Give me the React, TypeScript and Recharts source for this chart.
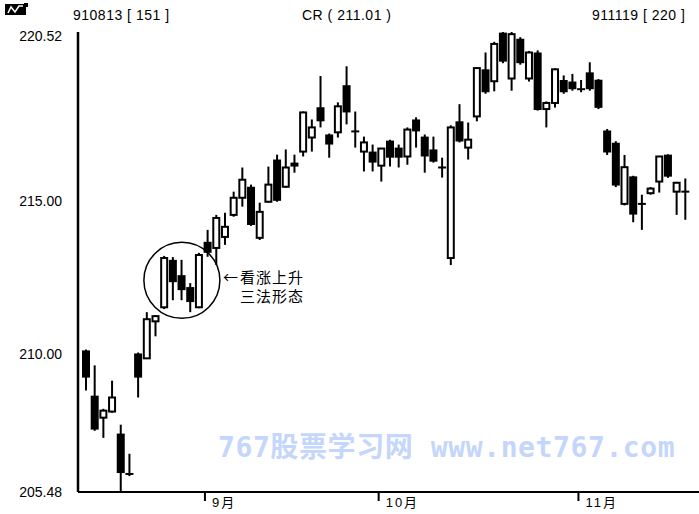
import React from "react";
import { ComposedChart, Bar, XAxis, YAxis, ReferenceDot } from "recharts";

// 910813 [151] .. 911119 [220], daily bars
const dates = [
  "0813", "0814", "0815", "0816", "0819", "0820", "0821", "0822", "0823", "0826", "0827", "0828", "0829", "0830",
  "0903", "0904", "0905", "0906", "0909", "0910", "0911", "0912", "0913", "0916", "0917", "0918", "0919", "0920",
  "0923", "0924", "0925", "0926", "0927", "0930",
  "1001", "1002", "1003", "1004", "1007", "1008", "1009", "1010", "1011", "1014", "1015", "1016", "1017", "1018",
  "1021", "1022", "1023", "1024", "1025", "1028", "1029", "1030", "1031",
  "1101", "1104", "1105", "1106", "1107", "1108", "1111", "1112", "1113", "1114", "1115", "1118", "1119",
];

const opens = [
  210.11, 208.63, 207.91, 208.11, 207.39, 206.08, 210.01, 209.85, 211.06, 211.52,
  213.07, 212.57, 212.18, 211.52, 213.66, 213.46, 213.82, 214.54, 215.1, 215.46,
  213.79, 214.97, 216.35, 215.46, 216.25, 216.61, 217.07, 218.06, 217.17, 217.24,
  218.78, 217.28, 216.61, 216.61, 216.15, 216.97, 216.74, 216.45, 217.66, 217.1,
  216.68, 216.1, 213.13, 217.6, 216.74, 217.76, 219.3, 218.91, 220.5, 219.0,
  220.3, 219.0, 219.85, 218.0, 218.2, 218.95, 218.9, 218.66, 219.2, 218.96,
  217.3, 216.9, 214.9, 215.8, 214.91, 215.25, 215.63, 216.51, 215.3, 215.31,
];
const highs = [
  210.14, 209.62, 208.2, 209.12, 207.68, 206.73, 210.04, 211.36, 211.26, 213.2,
  213.16, 213.07, 212.31, 213.3, 214.05, 214.54, 214.61, 215.3, 216.09, 215.53,
  214.94, 216.12, 216.51, 216.68, 216.51, 217.92, 217.66, 219.08, 217.2, 218.22,
  219.4, 217.92, 217.1, 216.84, 216.71, 217.0, 216.84, 217.4, 217.73, 217.17,
  217.1, 216.41, 217.47, 218.16, 217.56, 219.37, 219.85, 220.2, 220.52, 220.52,
  220.35, 219.9, 219.92, 218.25, 219.33, 219.1, 219.15, 218.95, 219.53, 218.98,
  217.35, 216.95, 216.5, 215.82, 215.2, 215.45, 216.45, 216.52, 215.62, 215.73,
];
const lows = [
  208.8, 207.48, 207.25, 208.07, 205.48, 206.0, 208.57, 209.85, 210.57, 211.46,
  211.75, 211.75, 211.36, 211.49, 213.17, 212.9, 213.56, 214.48, 214.81, 214.18,
  213.72, 214.94, 214.97, 215.43, 215.92, 216.45, 216.61, 217.4, 216.41, 217.07,
  217.5, 216.74, 215.96, 215.96, 215.63, 216.12, 216.09, 216.18, 216.74, 215.92,
  216.25, 215.76, 212.9, 216.91, 216.35, 217.6, 218.5, 218.58, 219.5, 218.6,
  219.45, 218.9, 217.95, 217.4, 218.05, 218.5, 218.6, 218.55, 218.6, 218.0,
  216.5, 215.45, 214.85, 214.3, 214.05, 215.2, 215.27, 215.75, 214.54, 214.38,
];
const closes = [
  209.22, 207.52, 208.14, 208.57, 206.1, 206.06, 209.22, 211.13, 211.23, 213.13,
  212.34, 212.08, 211.69, 213.23, 213.3, 214.44, 214.15, 215.1, 215.69, 214.21,
  214.64, 215.53, 215.0, 216.09, 216.12, 217.89, 217.4, 217.6, 216.84, 218.09,
  217.89, 217.26, 216.91, 216.25, 216.71, 216.41, 216.41, 217.33, 217.27, 216.45,
  216.28, 216.08, 217.4, 216.94, 217.0, 219.34, 218.55, 220.13, 219.55, 220.45,
  219.5, 219.85, 217.97, 218.2, 219.3, 218.55, 218.65, 218.64, 218.65, 218.04,
  216.58, 215.5, 216.1, 214.55, 214.89, 215.4, 216.45, 215.79, 215.59, 215.29,
];

const yTicks = [205.48, 210, 215, 220.52];
const monthTicks = ["0903", "1001", "1101"];
const monthLabels: Record<string, string> = { "0903": "9月", "1001": "10月", "1101": "11月" };

const data = dates.map((d, i) => ({
  date: d,
  open: opens[i],
  high: highs[i],
  low: lows[i],
  close: closes[i],
  range: [lows[i], highs[i]],
}));

function Candle(props: any) {
  const { x, y, width, height, payload } = props;
  const { open, high, low, close } = payload;
  const top = Math.min(y, y + height);
  const h = Math.abs(height);
  const k = high - low > 0 ? h / (high - low) : 0;
  const py = (v: number) => top + (high - v) * k;
  const cx = x + width / 2;
  const bTop = py(Math.max(open, close));
  const bBot = py(Math.min(open, close));
  const bh = bBot - bTop;
  let body;
  if (bh < 2) {
    body = <rect x={x} y={(bTop + bBot) / 2 - 1} width={width} height={2} fill="#000" />;
  } else if (close > open) {
    body = <rect x={x + 1} y={bTop} width={width - 2} height={bh} fill="#fff" stroke="#000" strokeWidth={2} />;
  } else {
    body = <rect x={x} y={bTop} width={width} height={bh} fill="#000" />;
  }
  return (
    <g>
      <line x1={cx} x2={cx} y1={top} y2={top + h} stroke="#000" strokeWidth={2} />
      {body}
    </g>
  );
}

function YTick({ x, y, payload }: any) {
  const v = payload.value as number;
  return (
    <text
      x={x}
      y={y + (v === 220.52 ? 4 : 0)}
      textAnchor="end"
      dominantBaseline="central"
      fontSize={14}
      fontFamily="Liberation Sans, Arial, sans-serif"
      fill="#000"
    >
      {v.toFixed(2)}
    </text>
  );
}

function XTick({ x, y, payload }: any) {
  const label = monthLabels[payload.value];
  if (!label) return null;
  return (
    <g>
      <line x1={x - 3} x2={x - 3} y1={y} y2={y + 9} stroke="#000" strokeWidth={2} />
      <text
        x={x + 4}
        y={y + 15}
        fontSize={13}
        letterSpacing={2}
        fontFamily="Liberation Sans, 'Noto Sans CJK SC', sans-serif"
        fill="#000"
      >
        {label}
      </text>
    </g>
  );
}

const headStyle: React.CSSProperties = {
  position: "absolute",
  top: 7,
  fontSize: 14,
  lineHeight: "16px",
  letterSpacing: 0.5,
  fontFamily: "Liberation Sans, Arial, sans-serif",
  color: "#000",
  whiteSpace: "nowrap",
};

const noteStyle: React.CSSProperties = {
  position: "absolute",
  fontSize: 15,
  lineHeight: "17px",
  letterSpacing: 1,
  fontFamily: "'Noto Sans CJK SC', sans-serif",
  color: "#000",
  whiteSpace: "nowrap",
};

export default function App() {
  return (
    <div style={{ position: "absolute", left: 0, top: 0, width: 699, height: 514, background: "#fff", overflow: "hidden" }}>
      <div
        style={{
          position: "absolute",
          left: 218,
          top: 432,
          fontSize: 28,
          lineHeight: "32px",
          fontWeight: "bold",
          letterSpacing: 0.6,
          color: "#c4d6fb",
          fontFamily: "'DejaVu Sans Mono', 'Noto Sans CJK SC', monospace",
          whiteSpace: "pre",
        }}
      >
        767股票学习网 www.net767.com
      </div>
      <ComposedChart
        width={699}
        height={514}
        data={data}
        margin={{ top: 32, right: 0, bottom: 2, left: 0 }}
        style={{ position: "absolute", left: 0, top: 0 }}
      >
        <XAxis
          dataKey="date"
          ticks={monthTicks}
          interval={0}
          height={20}
          padding={{ left: 4, right: 9 }}
          axisLine={{ stroke: "#000", strokeWidth: 2 }}
          tickLine={false}
          tickSize={0}
          tickMargin={0}
          tick={<XTick />}
        />
        <YAxis
          width={78}
          domain={[205.48, 220.52]}
          ticks={yTicks}
          allowDataOverflow
          axisLine={{ stroke: "#000", strokeWidth: 2.5 }}
          tickLine={false}
          tickSize={0}
          tickMargin={16}
          tick={<YTick />}
        />
        <Bar dataKey="range" barSize={8} isAnimationActive={false} shape={(p: any) => <Candle {...p} />} />
        <ReferenceDot x={dates[11]} y={212.4} r={38} fill="none" stroke="#000" strokeWidth={1.5} />
      </ComposedChart>
      <svg width={30} height={20} style={{ position: "absolute", left: 3, top: 2 }}>
        <rect x={2} y={2} width={21} height={11} fill="#000" />
        <polyline points="5,11 8,5 12,10 16,4 20,4" fill="none" stroke="#fff" strokeWidth={1.5} />
        <rect x={21} y={1} width={4} height={4} fill="#000" />
      </svg>
      <div style={{ ...headStyle, left: 73 }}>910813 [ 151 ]</div>
      <div style={{ ...headStyle, left: 302 }}>CR ( 211.01 )</div>
      <div style={{ ...headStyle, left: 592 }}>911119 [ 220 ]</div>
      <div style={{ ...noteStyle, left: 223, top: 268 }}>←</div>
      <div style={{ ...noteStyle, left: 240, top: 268 }}>看涨上升</div>
      <div style={{ ...noteStyle, left: 240, top: 287 }}>三法形态</div>
    </div>
  );
}
